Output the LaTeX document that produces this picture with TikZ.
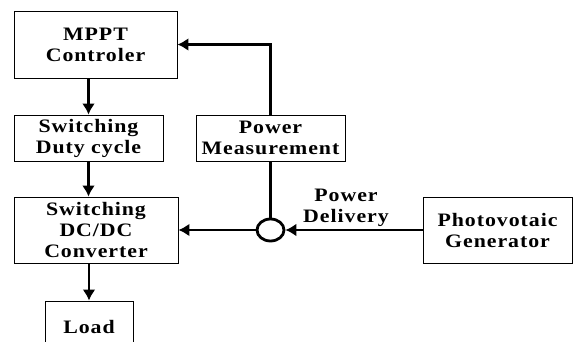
\documentclass[tikz,border=0pt]{standalone}
\usepackage{fontspec}
\setmainfont{Liberation Serif}[FakeStretch=1.15,LetterSpace=5]
\usetikzlibrary{positioning, shapes.geometric, arrows.meta}

\begin{document}
\begin{tikzpicture}[x=1pt, y=-1pt,
        block/.style={draw, line width=0.9pt, align=center, inner sep=0pt,
            font=\bfseries\fontsize{19}{21}\selectfont},
        flow/.style={line width=2.8pt, -{Latex[length=11pt,width=13pt]}}]
            \useasboundingbox (0,0) rectangle (573,341);
            \clip (0,0) rectangle (573,341);

            \node [block, minimum width=163pt, minimum height=67pt] (mppt) at (95.5,44.5) {MPPT\\Controler};
            \node [block, minimum width=149pt, minimum height=46pt] (duty) at (88.5,138) {Switching\\Duty cycle};
            \node [block, minimum width=149pt, minimum height=46pt] (meas) at (270.5,138) {Power\\Measurement};
            \node [block, minimum width=164pt, minimum height=66pt] (conv) at (96,230) {Switching\\DC/DC\\Converter};
            \node [block, minimum width=88pt, minimum height=52pt] (load) at (89,327) {Load};
            \node [block, minimum width=149pt, minimum height=66pt] (pv) at (497.5,230) {Photovotaic\\Generator};
            \node [draw, ellipse, line width=2.8pt, inner sep=0pt, minimum width=27pt, minimum height=22pt] (junc) at (270.5,230) {};
            \node [align=center, font=\bfseries\fontsize{19}{21}\selectfont] (deliv) at (346,208) {Power\\Delivery};

            \draw [flow] (mppt.south -| duty) -- (duty.north);
            \draw [flow] (duty.south) -- (duty.south |- conv.north);
            \draw [flow] (conv.south -| load) -- (load.north);
            \draw [flow] (meas.north) |- (mppt.east);
            \draw [line width=2.8pt] (junc.north) -- (meas.south);
            \draw [flow] (pv.west) -- (junc.east);
            \draw [flow] (junc.west) -- (conv.east);
        \end{tikzpicture}
\end{document}
